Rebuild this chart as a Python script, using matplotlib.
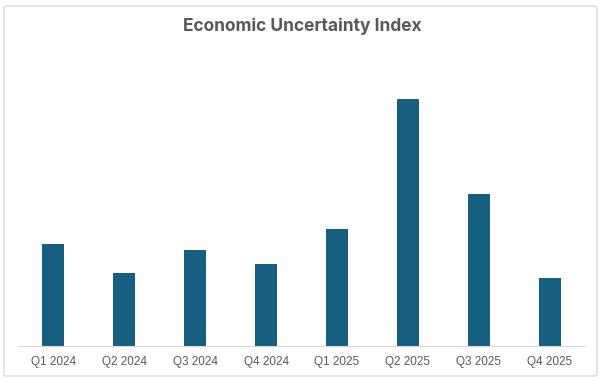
import matplotlib.pyplot as plt
from matplotlib.patches import FancyBboxPatch

quarters = ["Q1 2024", "Q2 2024", "Q3 2024", "Q4 2024",
            "Q1 2025", "Q2 2025", "Q3 2025", "Q4 2025"]
uncertainty = [102, 73, 96, 82, 117, 247, 152, 68]

plt.rcParams['font.family'] = ['Liberation Sans', 'DejaVu Sans']

fig = plt.figure(figsize=(6.05, 3.82), dpi=100)
# outer rounded border
border = FancyBboxPatch((4 / 605, 6 / 382), 593 / 605, 370 / 382,
                        boxstyle="round,pad=0,rounding_size=0.005",
                        transform=fig.transFigure, fill=False,
                        edgecolor="#d9d9d9", linewidth=1.0)
fig.patches.append(border)

ax = fig.add_axes([18 / 605, 1 - 346 / 382, 567 / 605, 276 / 382])
ax.bar(range(len(quarters)), uncertainty, width=0.31, color="#175f80")
ax.set_xlim(-0.5, len(quarters) - 0.5)
ax.set_ylim(0, 276)
ax.set_xticks(range(len(quarters)))
ax.set_xticklabels(quarters, fontsize=8.5, color="#595959")
ax.tick_params(axis="x", length=0, pad=7)
ax.set_yticks([])
for s in ["top", "right", "left"]:
    ax.spines[s].set_visible(False)
ax.spines["bottom"].set_color("#d9d9d9")

fig.text(0.5, 1 - 26 / 382, "Economic Uncertainty Index", ha="center", va="center",
         fontsize=12.5, fontweight="bold", color="#595959", family=["Inter", "DejaVu Sans"])

fig.savefig("out.png", dpi=100)
